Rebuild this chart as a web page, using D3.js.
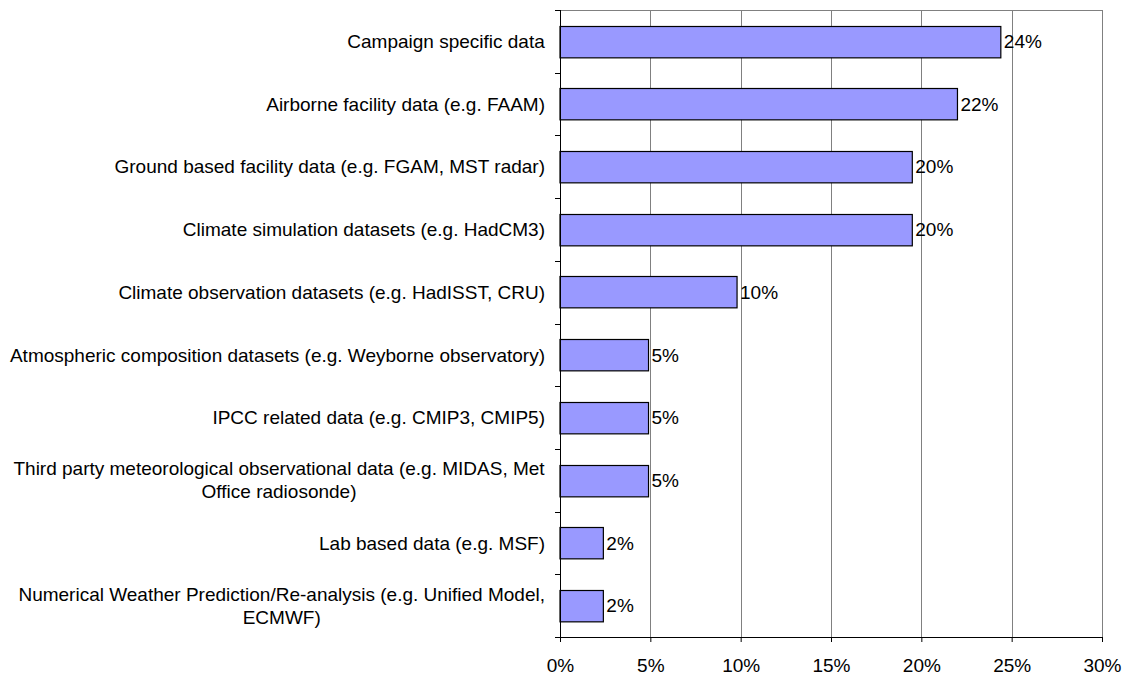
<!DOCTYPE html>
<html>
<head>
<meta charset="utf-8">
<script src="https://cdn.jsdelivr.net/npm/d3@7"></script>
<style>
  body { margin: 0; background: #fff; }
  text { font-family: "Liberation Sans", Arial, sans-serif; fill: #000; }
</style>
</head>
<body>
<div id="chart"></div>
<script>
// category labels, pre-wrapped into lines
const categories = [
  ["Campaign specific data"],
  ["Airborne facility data (e.g. FAAM)"],
  ["Ground based facility data (e.g. FGAM, MST radar)"],
  ["Climate simulation datasets (e.g. HadCM3)"],
  ["Climate observation datasets (e.g. HadISST, CRU)"],
  ["Atmospheric composition datasets (e.g. Weyborne observatory)"],
  ["IPCC related data (e.g. CMIP3, CMIP5)"],
  ["Third party meteorological observational data (e.g. MIDAS, Met", "Office radiosonde)"],
  ["Lab based data (e.g. MSF)"],
  ["Numerical Weather Prediction/Re-analysis (e.g. Unified Model,", "ECMWF)"],
];
const values = [24.4, 22.0, 19.5, 19.5, 9.8, 4.9, 4.9, 4.9, 2.4, 2.4];
const valueLabels = ["24%", "22%", "20%", "20%", "10%", "5%", "5%", "5%", "2%", "2%"];
const xTicks = [0, 5, 10, 15, 20, 25, 30];

const W = 1127, H = 675;
const margin = { top: 10, right: 25, bottom: 38, left: 560 };
const width = W - margin.left - margin.right;
const height = H - margin.top - margin.bottom;
const fontSize = "19px";

const svg = d3
  .select("#chart")
  .append("svg")
  .attr("width", W)
  .attr("height", H)
  .append("g")
  .attr("transform", "translate(" + margin.left + "," + margin.top + ")");

const x = d3.scaleLinear().domain([0, 30]).range([0, width]);
const y = d3
  .scaleBand()
  .domain(d3.range(categories.length))
  .range([0, height])
  .paddingInner(0.5)
  .paddingOuter(0.25);

// gridlines + frame
svg
  .selectAll(".grid")
  .data(xTicks.slice(1))
  .enter()
  .append("line")
  .attr("x1", (d) => Math.round(x(d)) + 0.5)
  .attr("x2", (d) => Math.round(x(d)) + 0.5)
  .attr("y1", 0)
  .attr("y2", height)
  .attr("stroke", "#808080");
svg
  .append("line")
  .attr("x1", 0)
  .attr("x2", width)
  .attr("y1", 0.5)
  .attr("y2", 0.5)
  .attr("stroke", "#808080");

// bars
svg
  .selectAll(".bar")
  .data(values)
  .enter()
  .append("rect")
  .attr("class", "bar")
  .attr("x", x(0))
  .attr("y", (d, i) => Math.round(y(i)) + 0.5)
  .attr("width", (d) => x(d))
  .attr("height", y.bandwidth())
  .attr("fill", "#9999FF")
  .attr("stroke", "#000")
  .attr("stroke-width", 1.2);

// value labels
svg
  .selectAll(".vlabel")
  .data(values)
  .enter()
  .append("text")
  .attr("x", (d) => x(d) + 3)
  .attr("y", (d, i) => y(i) + y.bandwidth() / 2)
  .attr("dy", "0.35em")
  .style("font-size", fontSize)
  .text((d, i) => valueLabels[i]);

// x axis
const xAxis = d3
  .axisBottom(x)
  .tickValues(xTicks)
  .tickFormat((d) => d + "%")
  .tickSize(5)
  .tickSizeOuter(0);
const gx = svg
  .append("g")
  .attr("transform", "translate(0," + height + ")")
  .call(xAxis);
gx.select(".domain").attr("stroke", "#000");
gx.selectAll("text").style("font-size", fontSize).attr("dy", "1.4em");

// y axis (ticks at band boundaries)
const step = y.step();
const boundaries = d3.range(categories.length + 1).map((i) => i * step);
svg
  .append("line")
  .attr("x1", 0.5)
  .attr("x2", 0.5)
  .attr("y1", 0)
  .attr("y2", height)
  .attr("stroke", "#000");
svg
  .selectAll(".ytick")
  .data(boundaries)
  .enter()
  .append("line")
  .attr("x1", -5)
  .attr("x2", 0)
  .attr("y1", (d) => Math.round(d) + 0.5)
  .attr("y2", (d) => Math.round(d) + 0.5)
  .attr("stroke", "#000");

// category labels
const labelRight = -15;
const lineH = 23;
categories.forEach((lines, i) => {
  const cy = y(i) + y.bandwidth() / 2;
  const g = svg.append("g");
  const t = g
    .append("text")
    .style("font-size", fontSize)
    .attr("text-anchor", "middle");
  lines.forEach((ln, j) => {
    t.append("tspan")
      .attr("x", 0)
      .attr("y", cy + (j - (lines.length - 1) / 2) * lineH)
      .attr("dy", "0.35em")
      .text(ln);
  });
  const bw = t.node().getBBox().width;
  g.attr("transform", "translate(" + (labelRight - bw / 2) + ",0)");
});
</script>
</body>
</html>
